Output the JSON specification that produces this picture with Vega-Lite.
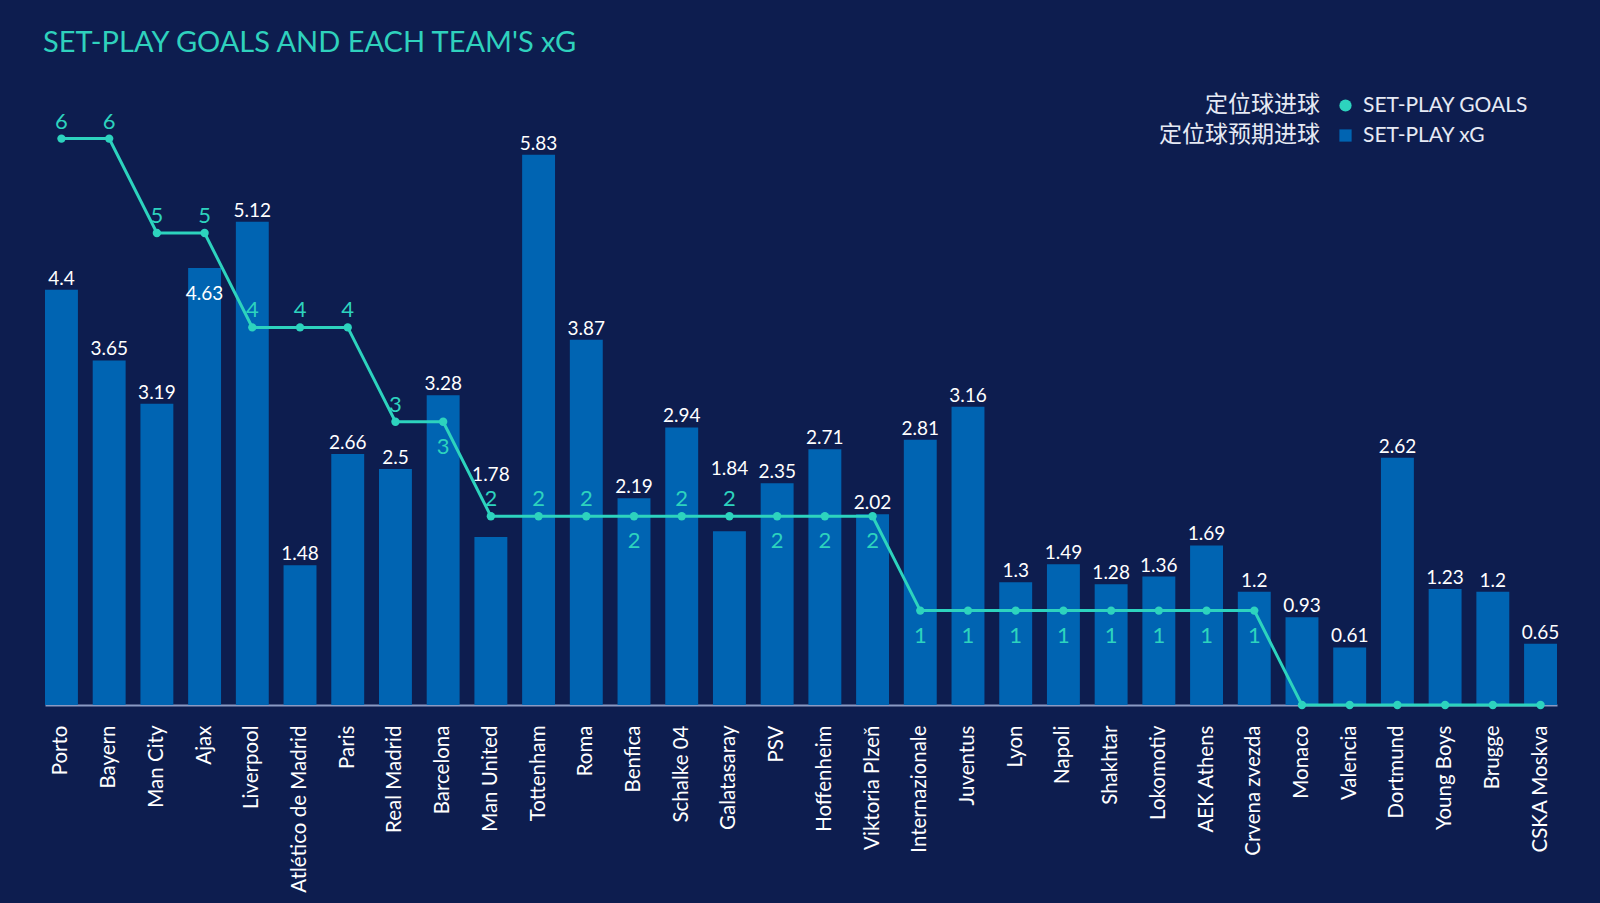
{
  "$schema": "https://vega.github.io/schema/vega-lite/v6.json",
  "width": 1512,
  "height": 590,
  "autosize": {"type": "none"},
  "padding": {"left": 45, "top": 115, "right": 43, "bottom": 198},
  "background": "#0d1d4f",
  "title": {
    "text": "SET-PLAY GOALS AND EACH TEAM'S xG",
    "anchor": "start",
    "frame": "group",
    "color": "#2fd1bd",
    "font": "Lato",
    "fontSize": 29,
    "fontWeight": "normal",
    "offset": 37,
    "dx": -2
  },
  "config": {
    "view": {"stroke": null},
    "axis": {"grid": false}
  },
  "data": {
    "values": [
      {"team": "Porto", "xg": 4.4, "goals": 6},
      {"team": "Bayern", "xg": 3.65, "goals": 6},
      {"team": "Man City", "xg": 3.19, "goals": 5},
      {"team": "Ajax", "xg": 4.63, "goals": 5},
      {"team": "Liverpool", "xg": 5.12, "goals": 4},
      {"team": "Atlético de Madrid", "xg": 1.48, "goals": 4},
      {"team": "Paris", "xg": 2.66, "goals": 4},
      {"team": "Real Madrid", "xg": 2.5, "goals": 3},
      {"team": "Barcelona", "xg": 3.28, "goals": 3},
      {"team": "Man United", "xg": 1.78, "goals": 2},
      {"team": "Tottenham", "xg": 5.83, "goals": 2},
      {"team": "Roma", "xg": 3.87, "goals": 2},
      {"team": "Benfica", "xg": 2.19, "goals": 2},
      {"team": "Schalke 04", "xg": 2.94, "goals": 2},
      {"team": "Galatasaray", "xg": 1.84, "goals": 2},
      {"team": "PSV", "xg": 2.35, "goals": 2},
      {"team": "Hoffenheim", "xg": 2.71, "goals": 2},
      {"team": "Viktoria Plzeň", "xg": 2.02, "goals": 2},
      {"team": "Internazionale", "xg": 2.81, "goals": 1},
      {"team": "Juventus", "xg": 3.16, "goals": 1},
      {"team": "Lyon", "xg": 1.3, "goals": 1},
      {"team": "Napoli", "xg": 1.49, "goals": 1},
      {"team": "Shakhtar", "xg": 1.28, "goals": 1},
      {"team": "Lokomotiv", "xg": 1.36, "goals": 1},
      {"team": "AEK Athens", "xg": 1.69, "goals": 1},
      {"team": "Crvena zvezda", "xg": 1.2, "goals": 1},
      {"team": "Monaco", "xg": 0.93, "goals": 0},
      {"team": "Valencia", "xg": 0.61, "goals": 0},
      {"team": "Dortmund", "xg": 2.62, "goals": 0},
      {"team": "Young Boys", "xg": 1.23, "goals": 0},
      {"team": "Brugge", "xg": 1.2, "goals": 0},
      {"team": "CSKA Moskva", "xg": 0.65, "goals": 0}
    ]
  },
  "encoding": {
    "x": {
      "field": "team",
      "type": "nominal",
      "sort": null,
      "scale": {"paddingInner": 0.31, "paddingOuter": 0},
      "axis": {
        "title": null,
        "labelAngle": -90,
        "labelFont": "Lato",
        "labelFontSize": 20.5,
        "labelColor": "#ffffff",
        "labelPadding": 20,
        "ticks": false,
        "domainColor": "#8a9ac4",
        "domainWidth": 2
      }
    }
  },
  "layer": [
    {
      "mark": {"type": "bar"},
      "encoding": {
        "y": {"field": "xg", "type": "quantitative", "scale": {"domain": [0, 6.25], "nice": false}, "axis": null},
        "color": {
          "datum": "SET-PLAY xG",
          "scale": {"domain": ["SET-PLAY GOALS", "SET-PLAY xG"], "range": ["#2dd3be", "#0064b2"]},
          "legend": {
            "orient": "none",
            "legendX": 1114,
            "legendY": -20,
            "title": ["定位球进球", "定位球预期进球"],
            "titleOrient": "left",
            "titleAlign": "right",
            "titleFont": "Lato, Noto Sans CJK SC",
            "titleFontSize": 23,
            "titleFontWeight": "normal",
            "titleColor": "#e6eaf4",
            "titleLineHeight": 30,
            "titlePadding": -146,
            "labelFont": "Lato",
            "labelFontSize": 21,
            "labelColor": "#e6eaf4",
            "labelOffset": 7,
            "labelLimit": 400,
            "symbolSize": 150,
            "symbolStrokeWidth": 0,
            "rowPadding": 8,
            "encode": {
              "symbols": {"update": {"shape": {"signal": "datum.value === 'SET-PLAY xG' ? 'square' : 'circle'"}}}
            }
          }
        }
      }
    },
    {
      "transform": [{"filter": {"not": {"field": "team", "oneOf": ["Ajax", "Man United", "Galatasaray"]}}}],
      "mark": {"type": "text", "baseline": "alphabetic", "dy": -5, "font": "Lato", "fontSize": 19, "color": "#ffffff"},
      "encoding": {
        "y": {"field": "xg", "type": "quantitative"},
        "text": {"field": "xg", "type": "nominal"}
      }
    },
    {
      "transform": [{"filter": {"field": "team", "oneOf": ["Ajax"]}}],
      "mark": {"type": "text", "baseline": "top", "dy": 17, "font": "Lato", "fontSize": 19, "color": "#ffffff"},
      "encoding": {
        "y": {"field": "xg", "type": "quantitative"},
        "text": {"field": "xg", "type": "nominal"}
      }
    },
    {
      "transform": [{"filter": {"field": "team", "oneOf": ["Man United", "Galatasaray"]}}],
      "mark": {"type": "text", "baseline": "alphabetic", "dy": -56, "font": "Lato", "fontSize": 19, "color": "#ffffff"},
      "encoding": {
        "y": {"field": "xg", "type": "quantitative"},
        "text": {"field": "xg", "type": "nominal"}
      }
    },
    {
      "mark": {"type": "line", "color": "#2dd3be", "strokeWidth": 3},
      "encoding": {
        "y": {"field": "goals", "type": "quantitative"}
      }
    },
    {
      "mark": {"type": "point", "filled": true, "opacity": 1, "size": 70, "shape": "circle"},
      "encoding": {
        "y": {"field": "goals", "type": "quantitative"},
        "color": {"datum": "SET-PLAY GOALS"}
      }
    },
    {
      "transform": [{"filter": {"field": "team", "oneOf": ["Porto", "Bayern", "Man City", "Ajax", "Liverpool", "Atlético de Madrid", "Paris", "Real Madrid", "Man United", "Tottenham", "Roma", "Schalke 04", "Galatasaray"]}}],
      "mark": {"type": "text", "baseline": "alphabetic", "dy": -10, "font": "Lato", "fontSize": 22, "color": "#2dd3be"},
      "encoding": {
        "y": {"field": "goals", "type": "quantitative"},
        "text": {"field": "goals", "type": "nominal"}
      }
    },
    {
      "transform": [{"filter": {"field": "team", "oneOf": ["Barcelona", "Benfica", "PSV", "Hoffenheim", "Viktoria Plzeň", "Internazionale", "Juventus", "Lyon", "Napoli", "Shakhtar", "Lokomotiv", "AEK Athens", "Crvena zvezda"]}}],
      "mark": {"type": "text", "baseline": "middle", "dy": 25, "font": "Lato", "fontSize": 22, "color": "#2dd3be"},
      "encoding": {
        "y": {"field": "goals", "type": "quantitative"},
        "text": {"field": "goals", "type": "nominal"}
      }
    }
  ]
}
